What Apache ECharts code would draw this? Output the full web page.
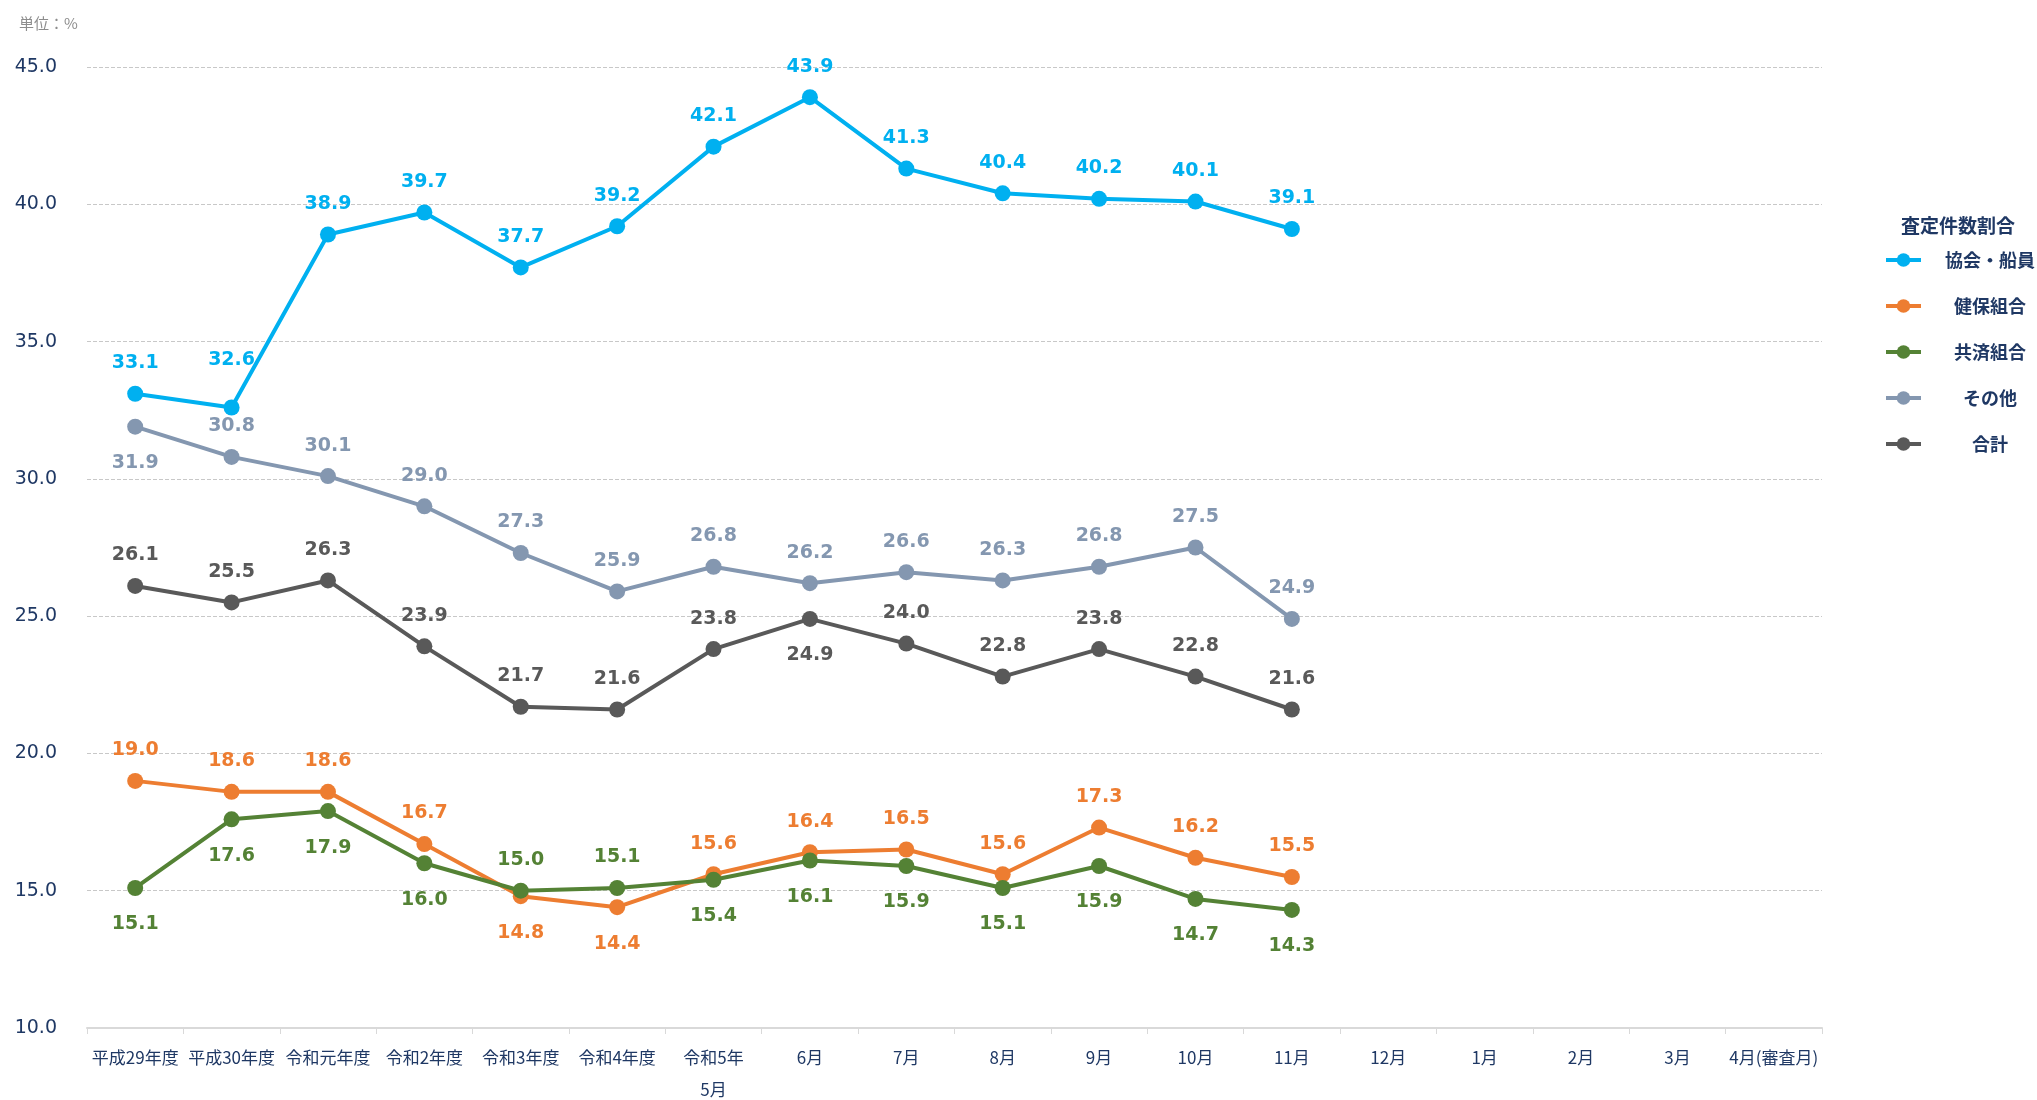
<!DOCTYPE html>
<html>
<head>
<meta charset="utf-8">
<script src="https://cdn.jsdelivr.net/npm/echarts@6/dist/echarts.min.js"></script>
<style>
  html, body { margin: 0; padding: 0; background: #fff; }
  #chart { width: 2037px; height: 1100px; }
</style>
</head>
<body>
<div id="chart"></div>
<script>
  // categories (審査月)
  const categories = ['平成29年度', '平成30年度', '令和元年度', '令和2年度', '令和3年度', '令和4年度', '令和5年\n5月',
    '6月', '7月', '8月', '9月', '10月', '11月', '12月', '1月', '2月', '3月', '4月(審査月)']

  const kyokai = [33.1, 32.6, 38.9, 39.7, 37.7, 39.2, 42.1, 43.9, 41.3, 40.4, 40.2, 40.1, 39.1]
  const kenpo = [19.0, 18.6, 18.6, 16.7, 14.8, 14.4, 15.6, 16.4, 16.5, 15.6, 17.3, 16.2, 15.5]
  const kyosai = [15.1, 17.6, 17.9, 16.0, 15.0, 15.1, 15.4, 16.1, 15.9, 15.1, 15.9, 14.7, 14.3]
  const sonota = [31.9, 30.8, 30.1, 29.0, 27.3, 25.9, 26.8, 26.2, 26.6, 26.3, 26.8, 27.5, 24.9]
  const goukei = [26.1, 25.5, 26.3, 23.9, 21.7, 21.6, 23.8, 24.9, 24.0, 22.8, 23.8, 22.8, 21.6]

  const navy = '#1f3864'
  const numFont = 'DejaVu Sans, Verdana, sans-serif'
  const jpFont = 'Noto Sans CJK JP, sans-serif'

  // belowIdx: points whose label flips side, farIdx: labels pushed away from the line
  function makeSeries(name, data, color, belowIdx, defaultBelow, farIdx) {
    farIdx = farIdx || []
    return {
      name: name,
      type: 'line',
      data: data.map((v, i) => {
        const below = belowIdx.includes(i) ? !defaultBelow : defaultBelow
        let dist = below ? 19 : 13
        if (farIdx.includes(i)) dist = 30
        return { value: v, label: { position: below ? 'bottom' : 'top', distance: dist } }
      }),
      symbol: 'circle',
      symbolSize: 16,
      itemStyle: { color: color },
      lineStyle: { color: color, width: 4 },
      label: {
        show: true,
        color: color,
        fontFamily: numFont,
        fontWeight: 'bold',
        fontSize: 19,
        formatter: p => p.value.toFixed(1)
      },
      emphasis: { disabled: true }
    }
  }

  const chart = echarts.init(document.getElementById('chart'))
  chart.setOption({
    animation: false,
    title: [
      { text: '単位：%', left: 14, top: 11, textStyle: { color: '#8c8c8c', fontSize: 15, fontWeight: 'normal', fontFamily: jpFont } },
      { text: '査定件数割合', left: 1896, top: 211, textStyle: { color: navy, fontSize: 19, fontWeight: 'bold', fontFamily: jpFont } }
    ],
    legend: {
      orient: 'vertical',
      left: 1879,
      top: 246,
      itemWidth: 35,
      itemHeight: 17,
      itemGap: 28,
      lineStyle: { width: 4 },
      data: ['協会・船員', '健保組合', '共済組合', 'その他', '合計'],
      formatter: n => '{a|' + n + '}',
      textStyle: {
        rich: {
          a: { width: 128, align: 'center', fontSize: 18, fontWeight: 'bold', color: navy, fontFamily: jpFont, lineHeight: 21 }
        }
      }
    },
    grid: { left: 87, right: 215, top: 67, bottom: 72, outerBoundsMode: 'none' },
    xAxis: {
      type: 'category',
      data: categories,
      boundaryGap: true,
      axisLine: { lineStyle: { color: '#d9d9d9', width: 2 } },
      axisTick: { show: true, length: 6, lineStyle: { color: '#d9d9d9', width: 1 } },
      axisLabel: { color: navy, fontSize: 17, fontFamily: jpFont, margin: 14, lineHeight: 32, interval: 0 }
    },
    yAxis: {
      type: 'value',
      min: 10,
      max: 45,
      interval: 5,
      axisLine: { show: false },
      axisTick: { show: false },
      axisLabel: { color: navy, fontSize: 19, fontFamily: numFont, margin: 30, formatter: v => v.toFixed(1) },
      splitLine: { lineStyle: { color: '#c8c8c8', type: 'dashed', width: 1 } }
    },
    series: [
      makeSeries('協会・船員', kyokai, '#00b0f0', [], false, [1]),
      makeSeries('健保組合', kenpo, '#ed7d31', [4, 5], false),
      makeSeries('共済組合', kyosai, '#548235', [4, 5], true),
      makeSeries('その他', sonota, '#8497b0', [0], false),
      makeSeries('合計', goukei, '#595959', [7], false)
    ]
  })
</script>
</body>
</html>
